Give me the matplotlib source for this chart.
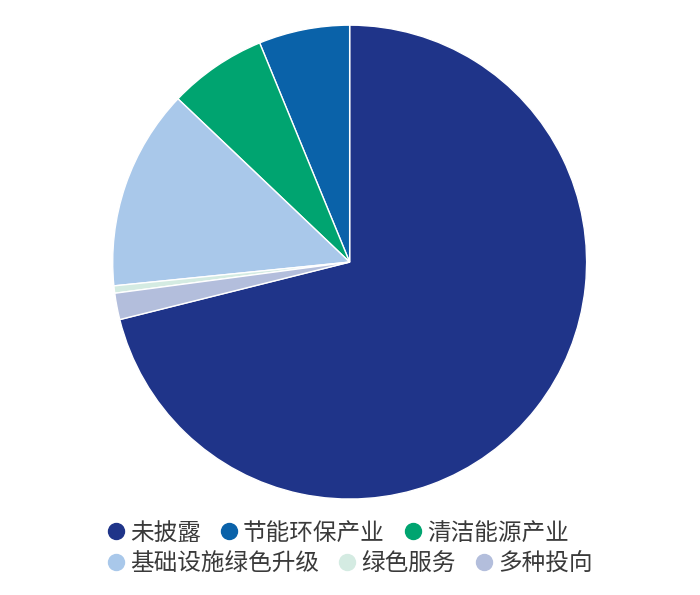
import matplotlib.pyplot as plt
from matplotlib.lines import Line2D

plt.rcParams['font.family'] = ['Noto Sans CJK SC', 'DejaVu Sans']

# 数据
labels = ['未披露', '节能环保产业', '清洁能源产业', '基础设施绿色升级', '绿色服务', '多种投向']
values = [71.1, 6.2, 6.7, 13.7, 0.5, 1.8]
colors = ['#1f3489', '#0a62a9', '#00a470', '#a9c8ea', '#d4ebe2', '#b3bedc']

fig = plt.figure(figsize=(7, 5.95), dpi=100)
ax = fig.add_axes([0.161, 0.161, 0.677, 0.797])

# 未披露 从正上方顺时针展开
start = 90 - values[0] / sum(values) * 360
ax.pie(values, colors=colors, startangle=start, counterclock=True,
       wedgeprops=dict(edgecolor='white', linewidth=1))
ax.set_xlim(-1, 1)
ax.set_ylim(-1, 1)
ax.set_aspect('equal')

def handles(idx):
    return [Line2D([], [], marker='o', linestyle='none', markersize=11.5,
                   markerfacecolor=colors[i], markeredgecolor=colors[i]) for i in idx]

rows = [[0, 1, 2], [3, 4, 5]]
ys = [0.104, 0.052]
for r, y in zip(rows, ys):
    leg = fig.legend(handles(r), [labels[i] for i in r], loc='center left',
                     bbox_to_anchor=(0.154, y), ncol=3, frameon=False,
                     fontsize=17, handletextpad=0.24, columnspacing=0.85,
                     handlelength=0.7, borderpad=0, borderaxespad=0)
    for t in leg.get_texts():
        t.set_color('#3a3a3a')

plt.savefig('out.png')
